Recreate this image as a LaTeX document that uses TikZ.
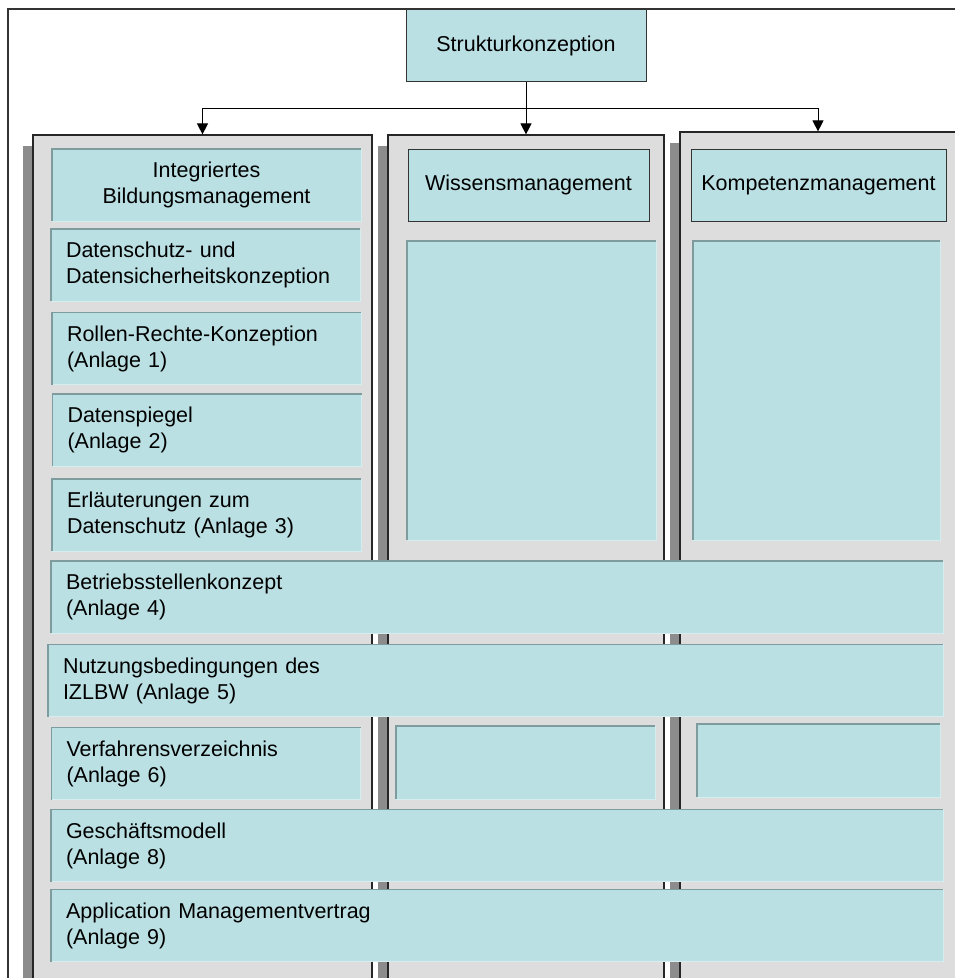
\documentclass[tikz,border=0pt]{standalone}
\usepackage{fontspec}
\setmainfont{Liberation Sans}
\usepackage{xcolor}
\usetikzlibrary{arrows.meta, shadows}

\definecolor{panel}{HTML}{BAE0E3}
\definecolor{lanegray}{HTML}{DDDDDD}
\definecolor{shade}{HTML}{8C8C8C}
\definecolor{edgedark}{HTML}{7E9C9E}
\definecolor{edgelite}{HTML}{D4EEF0}

\begin{document}
\begin{tikzpicture}[x=1pt, y=-1pt,
  lane/.style={rectangle, draw=black!85, line width=1.2pt, fill=lanegray,
               minimum height=873pt, inner sep=0pt,
               general shadow={fill=shade, shadow xshift=-10pt, shadow yshift=-11pt}},
  head/.style={rectangle, draw=black!80, line width=1pt, fill=panel,
               minimum height=72pt, inner sep=0pt, align=center,
               font=\fontsize{21.5}{26}\selectfont},
  cell/.style={rectangle, fill=panel, minimum height=72pt,
               inner xsep=15pt, inner ysep=0pt, text width=279pt, align=left,
               font=\fontsize{21.5}{26}\selectfont},
  bar/.style={cell, text width=862pt},
  blank/.style={rectangle, fill=panel, inner sep=0pt},
  edge/.style={edgedark, line width=1.4pt},
  lite/.style={edgelite, line width=1pt},
  arr/.style={-{Triangle[width=11pt, length=11pt]}, line width=1pt, black},
]
  \fill[white] (0,0) rectangle (955,978);
  \useasboundingbox (0,0) rectangle (955,978);
  \clip (0,0) rectangle (955,978);

  % outer frame, only its top and left sides lie on the page
  \draw[black!80, line width=1.3pt] (8,990) -- (8,9) -- (970,9);

  \node[head, minimum width=240pt] (sk) at (526, 45.5) {Strukturkonzeption};

  % the three columns
  \node[lane, minimum width=339pt] (colL) at (202.5, 571.5) {};
  \node[lane, minimum width=276pt] (colM) at (526, 571.5) {};
  \node[lane, minimum width=276pt] (colR) at (818, 568.5) {};

  \draw[line width=1pt] (sk.south) -- ++(0,26) coordinate (split);
  \draw[arr] (split) -| (colL.north);
  \draw[arr] (split) -- (colM.north);
  \draw[arr] (split) -| (colR.north);

  % left column
  \node[cell, align=center] (ibm) at (206.5, 185) {Integriertes\\Bildungsmanagement};
  \node[cell] (dsk) at (205.5, 265) {Datenschutz- und\\Datensicherheitskonzeption};
  \node[cell] (rrk) at (206.5, 348.5) {Rollen-Rechte-Konzeption\\(Anlage 1)};
  \node[cell] (dsp) at (207, 430) {Datenspiegel\\(Anlage 2)};
  \node[cell] (erl) at (206.5, 515) {Erläuterungen zum\\Datenschutz (Anlage 3)};
  \node[cell] (vfv) at (206, 763.5) {Verfahrensverzeichnis\\(Anlage 6)};

  % bars across all columns
  \node[bar] (bsk) at (497, 597) {Betriebsstellenkonzept\\(Anlage 4)};
  \node[bar, text width=865pt] (nub) at (495.5, 680.5) {Nutzungsbedingungen des\\IZLBW (Anlage 5)};
  \node[bar] (gmd) at (497, 845.5) {Geschäftsmodell\\(Anlage 8)};
  \node[bar] (amv) at (497, 925.5) {Application Managementvertrag\\(Anlage 9)};

  % middle and right column
  \node[head, minimum width=241pt] (wm) at (528.5, 185) {Wissensmanagement};
  \node[head, minimum width=255pt] (km) at (818.5, 185) {Kompetenzmanagement};
  \node[blank, minimum width=249pt, minimum height=299pt] (wmbig) at (531.5, 390.5) {};
  \node[blank, minimum width=247pt, minimum height=299pt] (kmbig) at (816.5, 390.5) {};
  \node[blank, minimum width=259pt, minimum height=73pt] (wmsmall) at (525.5, 762.5) {};
  \node[blank, minimum width=243pt, minimum height=73pt] (kmsmall) at (818.5, 760.5) {};

  \foreach \n in {ibm,dsk,rrk,dsp,erl,vfv,bsk,nub,gmd,amv,wmbig,kmbig,wmsmall,kmsmall}{
    \draw[lite] (\n.south west) -- (\n.south east) -- (\n.north east);
    \draw[edge] (\n.south west) -- (\n.north west) -- (\n.north east);
  }
\end{tikzpicture}
\end{document}
